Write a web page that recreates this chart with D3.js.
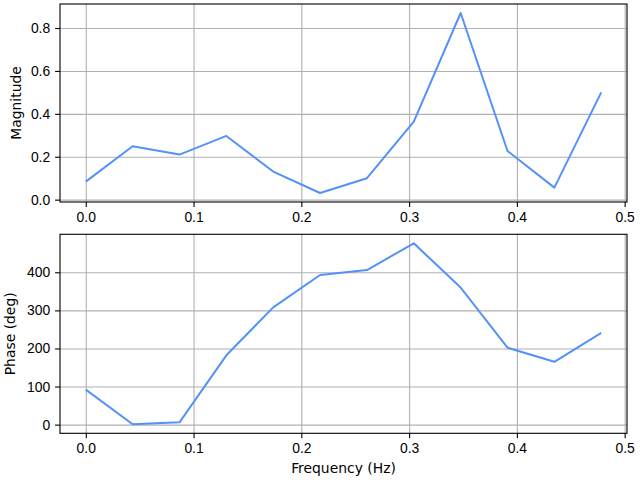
<!DOCTYPE html>
<html>
<head>
<meta charset="utf-8">
<script src="https://cdn.jsdelivr.net/npm/d3@7"></script>
<style>
body { margin: 0; background: #fff; }
svg { font-family: "DejaVu Sans", sans-serif; }
.axis text { font-size: 13.9px; fill: #000; }
.axis path, .axis line { stroke: #000; stroke-width: 1.1; }
.grid line { stroke: #b0b0b0; stroke-width: 1.1; }
.grid path { display: none; }
</style>
</head>
<body>
<script>
var freq = d3.range(12).map(function(k) { return k / 23; });
var magnitude = [0.084, 0.249, 0.210, 0.297, 0.131, 0.031, 0.100, 0.364, 0.870, 0.227, 0.056, 0.500];
var phase = [92, 1, 6, 182, 308, 393, 406, 476, 360, 202, 165, 241];
var xTicks = [0, 0.1, 0.2, 0.3, 0.4, 0.5];
var magTicks = [0, 0.2, 0.4, 0.6, 0.8];
var phaseTicks = [0, 100, 200, 300, 400];

var dim = { width: 640, height: 480, left: 60, right: 627 };
var panels = [
    { top: 4, bottom: 202, values: magnitude, ticks: magTicks, fmt: d3.format(".1f"), label: "Magnitude", labelX: 16 },
    { top: 234.3, bottom: 433.3, values: phase, ticks: phaseTicks, fmt: d3.format("d"), label: "Phase (deg)", labelX: 10 }
];

function padded(lo, hi) {
    var m = (hi - lo) * 0.05;
    return [lo - m, hi + m];
}

var svg = d3.select("body").append("svg")
        .attr("width", dim.width)
        .attr("height", dim.height);

var x = d3.scaleLinear()
        .domain(padded(d3.min(freq), d3.max(freq)))
        .range([dim.left, dim.right]);

panels.forEach(function(p) {
    var y = d3.scaleLinear()
            .domain(padded(d3.min(p.values), d3.max(p.values)))
            .range([p.bottom, p.top]);
    var h = p.bottom - p.top;
    var g = svg.append("g");

    g.append("g")
            .attr("class", "grid")
            .attr("transform", "translate(0," + p.bottom + ")")
            .call(d3.axisBottom(x).tickValues(xTicks).tickSize(-h).tickFormat(""));
    g.append("g")
            .attr("class", "grid")
            .attr("transform", "translate(" + dim.left + ",0)")
            .call(d3.axisLeft(y).tickValues(p.ticks).tickSize(-(dim.right - dim.left)).tickFormat(""));

    g.append("path")
            .datum(d3.zip(freq, p.values))
            .attr("fill", "none")
            .attr("stroke", "#5591f9")
            .attr("stroke-width", 2)
            .attr("stroke-linejoin", "round")
            .attr("d", d3.line().x(function(d) { return x(d[0]); }).y(function(d) { return y(d[1]); }));

    g.append("rect")
            .attr("x", dim.left).attr("y", p.top)
            .attr("width", dim.right - dim.left).attr("height", h)
            .attr("fill", "none").attr("stroke", "#000").attr("stroke-width", 1.1);

    g.append("g")
            .attr("class", "axis")
            .attr("transform", "translate(0," + p.bottom + ")")
            .call(d3.axisBottom(x).tickValues(xTicks).tickSize(4.9).tickPadding(4.9).tickFormat(d3.format(".1f")))
            .call(function(s) { s.select(".domain").remove(); });
    g.append("g")
            .attr("class", "axis")
            .attr("transform", "translate(" + dim.left + ",0)")
            .call(d3.axisLeft(y).tickValues(p.ticks).tickSize(4.9).tickPadding(4.9).tickFormat(p.fmt))
            .call(function(s) { s.select(".domain").remove(); });

    g.append("text")
            .attr("transform", "translate(" + p.labelX + "," + (p.top + h / 2) + ") rotate(-90)")
            .attr("text-anchor", "middle")
            .attr("dy", "0.35em")
            .style("font-size", "13.9px")
            .text(p.label);
});

svg.append("text")
        .attr("x", (dim.left + dim.right) / 2)
        .attr("y", 473)
        .attr("text-anchor", "middle")
        .style("font-size", "13.9px")
        .text("Frequency (Hz)");
</script>
</body>
</html>
